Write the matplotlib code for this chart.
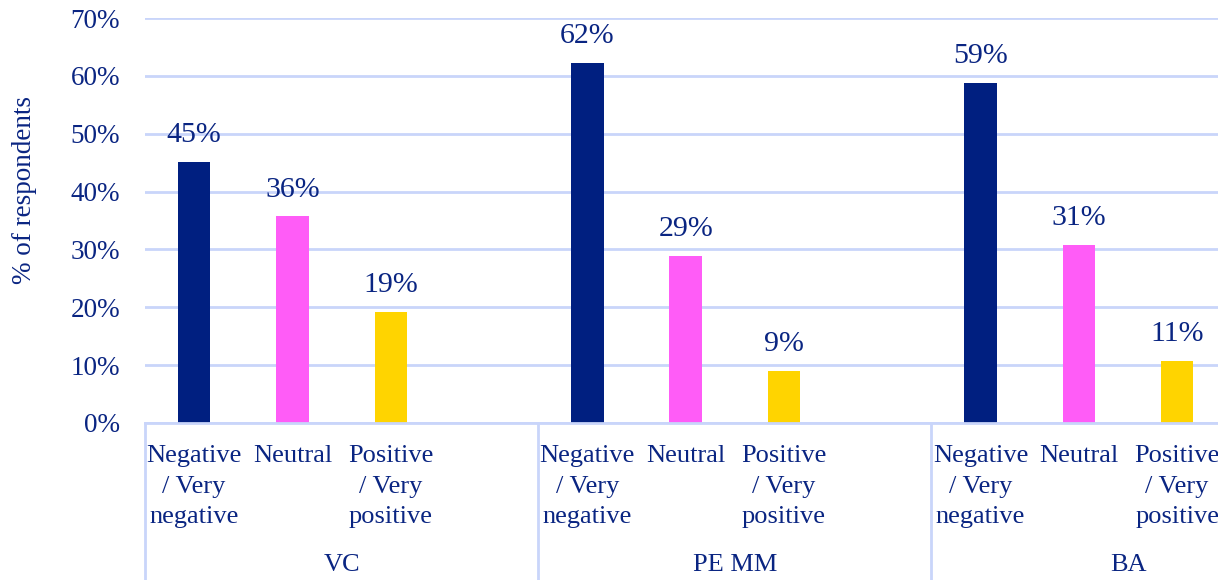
import matplotlib
matplotlib.use("Agg")
import matplotlib.pyplot as plt
from matplotlib.lines import Line2D

groups = ["VC", "PE MM", "BA"]
categories = ["Negative\n/ Very\nnegative", "Neutral", "Positive\n/ Very\npositive"]
vc_values = [45.1, 35.7, 19.2]
pemm_values = [62.3, 28.8, 9.0]
ba_values = [58.7, 30.7, 10.7]
series_values = [vc_values, pemm_values, ba_values]
bar_colors = ["#001f80", "#ff5cf7", "#ffd400"]
yticks = [0, 10, 20, 30, 40, 50, 60, 70]

TXT = "#0a2582"
GRID = "#c9d5fa"
plt.rcParams['font.family'] = ['Liberation Serif', 'DejaVu Serif']

fig = plt.figure(figsize=(12.18, 5.8), dpi=100)
W, H = 1218, 580
x0, x1 = 145, 145 + 12 * 98.3
y0, y1 = 423, 18
ax = fig.add_axes([x0 / W, (H - y0) / H, (x1 - x0) / W, (y0 - y1) / H])

slots_per_group = 4
bar_w = 0.33
for g, vals in enumerate(series_values):
    for c, v in enumerate(vals):
        xpos = g * slots_per_group + c
        ax.bar(xpos, v, width=bar_w, color=bar_colors[c], zorder=3)
        ax.annotate(f"{v:.0f}%", (xpos, v), xytext=(0, 10), textcoords="offset points",
                    ha="center", va="bottom", fontsize=21.5, color=TXT)
        ax.annotate(categories[c], (xpos, 0), xycoords=("data", "axes fraction"),
                    xytext=(0, -16), textcoords="offset points", ha="center", va="top",
                    fontsize=19, color=TXT, linespacing=1.5, annotation_clip=False)
    gc = g * slots_per_group + (slots_per_group - 1) / 2
    ax.annotate(groups[g], (gc, 0), xycoords=("data", "axes fraction"),
                xytext=(0, -102), textcoords="offset points", ha="center", va="center",
                fontsize=19, color=TXT, annotation_clip=False)

for b in range(len(groups) + 1):
    xb = b * slots_per_group - 0.5
    ax.add_line(Line2D([xb, xb], [0, -0.45], transform=ax.get_xaxis_transform(),
                       color=GRID, lw=2, clip_on=False))

ax.set_xlim(-0.5, len(groups) * slots_per_group - 0.5)
ax.set_ylim(0, 70)
ax.set_yticks(yticks)
ax.set_yticklabels([f"{t}%" for t in yticks])
ax.tick_params(axis="y", length=0, pad=18, labelsize=19.5, labelcolor=TXT)
ax.set_xticks([])
ax.grid(axis="y", color=GRID, lw=2, zorder=0)
for s in ["left", "right", "top"]:
    ax.spines[s].set_visible(False)
ax.spines["bottom"].set_color(GRID)
ax.spines["bottom"].set_linewidth(2)
ax.spines["bottom"].set_zorder(4)

fig.text(25 / W, (H - 190) / H, "% of respondents", rotation=90, ha="center", va="center",
         fontsize=19.5, color=TXT)

fig.savefig("out.png", dpi=100)
